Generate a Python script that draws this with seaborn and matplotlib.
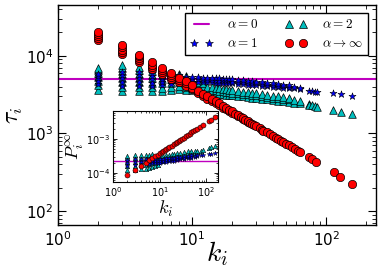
import matplotlib
matplotlib.use("Agg")
import matplotlib.pyplot as plt
import seaborn as sns
from matplotlib.lines import Line2D

# --- data ------------------------------------------------------------------
tau_a0 = 5000          # alpha = 0 (flat line)
p_a0 = 2.2e-4

k_a1 = [2, 2, 2, 2, 2, 3, 3, 3, 3, 3, 4, 4, 4, 4, 4, 5, 5, 5, 5, 5,
        6, 6, 6, 6, 6, 7, 7, 7, 7, 8, 8, 8, 8, 9, 9, 9,
        10, 10, 10, 11, 11, 11, 12, 12, 12, 13, 13, 13, 14, 14, 14,
        15, 15, 15, 16, 16, 16, 17, 17, 17, 18, 18, 18, 19, 19, 19,
        20, 20, 20, 22, 22, 22, 24, 24, 24, 26, 26, 26, 28, 28, 28,
        30, 30, 30, 33, 33, 33, 36, 36, 36, 40, 40, 40, 44, 44, 44,
        48, 48, 48, 53, 53, 53, 58, 58, 64, 64, 74, 78, 82, 85, 113, 128, 155]
tau_a1 = [4300, 4700, 5100, 5500, 5900, 4100, 4600, 5100, 5600, 6200,
          4100, 4600, 5100, 5600, 6100, 4100, 4500, 5000, 5500, 6000,
          4200, 4600, 5000, 5400, 5800, 4300, 4700, 5100, 5500,
          4400, 4800, 5200, 5600, 4500, 4900, 5300,
          4600, 4950, 5350, 4600, 4950, 5300, 4600, 4900, 5250,
          4550, 4900, 5200, 4550, 4850, 5150, 4500, 4800, 5150,
          4500, 4800, 5100, 4450, 4750, 5050, 4450, 4700, 5000,
          4400, 4700, 5000, 4400, 4650, 4950, 4350, 4600, 4900,
          4300, 4550, 4850, 4250, 4500, 4800, 4200, 4450, 4700,
          4150, 4400, 4650, 4100, 4350, 4550, 4050, 4250, 4500,
          4000, 4200, 4400, 3950, 4100, 4300, 3900, 4050, 4200,
          3850, 4000, 4150, 3800, 3950, 3750, 3900,
          3550, 3500, 3450, 3370, 3270, 3200, 3050]

k_a2 = [2, 2, 2, 2, 2, 2, 2, 3, 3, 3, 3, 3, 3, 3, 3, 4, 4, 4, 4, 4, 4, 4,
        5, 5, 5, 5, 5, 5, 5, 6, 6, 6, 6, 6, 6, 7, 7, 7, 7, 7, 7,
        8, 8, 8, 8, 8, 9, 9, 9, 9, 9, 10, 10, 10, 10, 11, 11, 11, 11,
        12, 12, 12, 12, 13, 13, 13, 14, 14, 14, 15, 15, 15, 16, 16, 16,
        17, 17, 17, 18, 18, 18, 19, 19, 19, 20, 20, 20, 22, 22, 22,
        24, 24, 24, 26, 26, 26, 28, 28, 28, 30, 30, 30, 33, 33, 33,
        36, 36, 36, 40, 40, 40, 44, 44, 44, 48, 48, 48, 53, 53, 53,
        58, 58, 64, 64, 74, 74, 78, 82, 85, 113, 128, 155]
tau_a2 = [3600, 4200, 4800, 5400, 6000, 6600, 7000,
          3500, 4000, 4600, 5200, 5800, 6400, 7000, 7600,
          3500, 4000, 4600, 5200, 5800, 6500, 7200,
          3500, 4000, 4500, 5100, 5700, 6400, 7000,
          3500, 3900, 4400, 5000, 5600, 6200,
          3600, 4000, 4500, 5000, 5600, 6000,
          3700, 4100, 4600, 5100, 5800, 3600, 4000, 4500, 5000, 5500,
          3600, 3900, 4300, 4700, 3500, 3800, 4200, 4600,
          3450, 3750, 4100, 4500, 3400, 3700, 4000, 3350, 3650, 3950,
          3300, 3600, 3900, 3250, 3550, 3800, 3200, 3500, 3750,
          3150, 3450, 3700, 3100, 3400, 3650, 3100, 3350, 3600,
          3050, 3300, 3500, 3000, 3250, 3450, 2950, 3200, 3400,
          2900, 3150, 3350, 2850, 3100, 3300, 2800, 3000, 3200,
          2750, 2950, 3150, 2700, 2900, 3050, 2650, 2850, 3000,
          2600, 2800, 2950, 2550, 2750, 2900, 2500, 2700, 2450, 2650,
          2400, 2300, 2350, 2250, 2200, 1990, 1900, 1760]

k_inf = [2, 2, 2, 2, 2, 3, 3, 3, 3, 3, 4, 4, 4, 4, 4, 5, 5, 5, 5,
         6, 6, 6, 6, 7, 7, 7, 7, 8, 8, 8, 9, 9, 9, 10, 10, 10,
         11, 11, 12, 12, 13, 13, 14, 14, 15, 15, 16, 16, 17, 17, 18, 18,
         19, 19, 20, 20, 21, 22, 22, 23, 24, 24, 25, 26, 26, 27, 28, 29,
         30, 32, 33, 34, 36, 38, 40, 42, 44, 46, 48, 50, 53, 56, 59, 62,
         64, 74, 78, 84, 114, 127, 156]
tau_inf = [16000, 17000, 18000, 19000, 20000, 10500, 11300, 12000, 12800, 13700,
           8300, 8800, 9300, 9800, 10200, 6700, 7200, 7700, 8200,
           5800, 6200, 6600, 7000, 5000, 5300, 5600, 6000,
           4600, 4850, 5200, 4100, 4400, 4700, 3700, 3900, 4200,
           3350, 3550, 3050, 3250, 2800, 3000, 2600, 2750, 2450, 2600,
           2300, 2450, 2150, 2280, 2050, 2150, 1950, 2030, 1850, 1950,
           1760, 1680, 1720, 1620, 1540, 1580, 1480, 1420, 1450, 1370,
           1320, 1270, 1230, 1160, 1120, 1090, 1030, 975, 925, 880,
           840, 805, 770, 740, 700, 660, 625, 600, 575, 500, 470, 430,
           315, 275, 225]

# inset: P_i^inf
kin_a1 = [2, 2, 2, 3, 3, 3, 4, 4, 4, 5, 5, 5, 6, 6, 6, 7, 7, 7, 8, 8, 8, 9, 9,
          10, 10, 10, 12, 12, 12, 14, 14, 14, 16, 16, 16, 18, 18, 18,
          20, 20, 20, 24, 24, 24, 28, 28, 28, 33, 33, 33, 40, 40, 40,
          48, 48, 48, 58, 58, 64, 64, 78, 85, 113, 128, 155]
p_a1 = [1.6e-4, 2.0e-4, 2.4e-4, 1.7e-4, 2.1e-4, 2.5e-4, 1.7e-4, 2.1e-4, 2.5e-4,
        1.8e-4, 2.2e-4, 2.5e-4, 1.8e-4, 2.2e-4, 2.5e-4, 1.9e-4, 2.2e-4, 2.5e-4,
        1.9e-4, 2.2e-4, 2.5e-4, 2.0e-4, 2.3e-4,
        2.0e-4, 2.3e-4, 2.6e-4, 2.1e-4, 2.3e-4, 2.6e-4, 2.1e-4, 2.4e-4, 2.7e-4,
        2.2e-4, 2.4e-4, 2.7e-4, 2.2e-4, 2.5e-4, 2.8e-4, 2.3e-4, 2.5e-4, 2.8e-4,
        2.4e-4, 2.6e-4, 2.9e-4, 2.5e-4, 2.7e-4, 3.0e-4, 2.6e-4, 2.8e-4, 3.1e-4,
        2.7e-4, 2.9e-4, 3.2e-4, 2.8e-4, 3.0e-4, 3.3e-4, 3.0e-4, 3.2e-4,
        3.1e-4, 3.3e-4, 3.3e-4, 3.4e-4, 3.6e-4, 3.7e-4, 3.9e-4]

kin_a2 = [2, 2, 2, 2, 2, 3, 3, 3, 3, 3, 4, 4, 4, 4, 4, 5, 5, 5, 5, 5,
          6, 6, 6, 6, 6, 7, 7, 7, 7, 7, 8, 8, 8, 8, 9, 9, 9, 9,
          10, 10, 10, 12, 12, 12, 14, 14, 14, 16, 16, 16, 18, 18, 18,
          20, 20, 20, 24, 24, 24, 28, 28, 28, 33, 33, 33, 40, 40, 40,
          48, 48, 48, 58, 58, 64, 64, 78, 85, 113, 128, 155]
p_a2 = [1.2e-4, 1.6e-4, 2.1e-4, 2.7e-4, 3.2e-4, 1.2e-4, 1.6e-4, 2.1e-4, 2.7e-4, 3.3e-4,
        1.3e-4, 1.7e-4, 2.2e-4, 2.8e-4, 3.4e-4, 1.3e-4, 1.7e-4, 2.2e-4, 2.8e-4, 3.4e-4,
        1.4e-4, 1.8e-4, 2.3e-4, 2.9e-4, 3.4e-4, 1.5e-4, 1.9e-4, 2.4e-4, 3.0e-4, 3.5e-4,
        1.6e-4, 2.0e-4, 2.5e-4, 3.0e-4, 1.7e-4, 2.1e-4, 2.6e-4, 3.1e-4,
        2.2e-4, 2.6e-4, 3.1e-4, 2.3e-4, 2.7e-4, 3.2e-4, 2.4e-4, 2.8e-4, 3.3e-4,
        2.5e-4, 2.9e-4, 3.4e-4, 2.6e-4, 3.0e-4, 3.5e-4, 2.7e-4, 3.1e-4, 3.6e-4,
        2.9e-4, 3.3e-4, 3.8e-4, 3.0e-4, 3.4e-4, 3.9e-4, 3.2e-4, 3.6e-4, 4.1e-4,
        3.4e-4, 3.8e-4, 4.3e-4, 3.6e-4, 4.0e-4, 4.5e-4, 3.8e-4, 4.3e-4,
        4.0e-4, 4.5e-4, 4.5e-4, 4.7e-4, 5.4e-4, 5.7e-4, 6.0e-4]

kin_inf = [2, 3, 4, 5, 6, 7, 8, 9, 10, 11, 12, 13, 14, 15, 16, 18, 20, 22, 24,
           26, 28, 30, 33, 36, 40, 44, 48, 53, 58, 64, 74, 84, 114, 127, 156]
p_inf = [8.7e-5, 1.26e-4, 1.63e-4, 2.0e-4, 2.35e-4, 2.7e-4, 3.05e-4, 3.4e-4,
         3.74e-4, 4.07e-4, 4.4e-4, 4.74e-4, 5.07e-4, 5.4e-4, 5.72e-4, 6.37e-4,
         7.0e-4, 7.64e-4, 8.27e-4, 8.9e-4, 9.5e-4, 1.01e-3, 1.1e-3, 1.19e-3,
         1.31e-3, 1.43e-3, 1.55e-3, 1.7e-3, 1.84e-3, 2.0e-3, 2.3e-3, 2.57e-3,
         3.4e-3, 3.7e-3, 4.5e-3]

# --- style -----------------------------------------------------------------
sns.set_style("ticks")
plt.rcParams["font.family"] = ["DejaVu Sans"]
plt.rcParams["mathtext.fontset"] = "cm"
plt.rcParams["xtick.direction"] = "in"
plt.rcParams["ytick.direction"] = "in"
plt.rcParams["xtick.top"] = True
plt.rcParams["ytick.right"] = True
for key in ["text.color", "axes.labelcolor", "xtick.color", "ytick.color",
            "axes.edgecolor"]:
    plt.rcParams[key] = "black"

fig = plt.figure(figsize=(3.82, 2.80), dpi=100)
ax = fig.add_axes([0.152, 0.196, 0.832, 0.786])

ax.axhline(tau_a0, color="m", lw=1.5, zorder=1)
sns.scatterplot(x=k_a2, y=tau_a2, marker="^", color="c", edgecolor="k",
                linewidth=0.5, s=30, ax=ax, zorder=2, legend=False)
sns.scatterplot(x=k_a1, y=tau_a1, marker="*", color="b", edgecolor="k",
                linewidth=0.4, s=28, ax=ax, zorder=3, legend=False)
sns.scatterplot(x=k_inf, y=tau_inf, marker="o", color="r", edgecolor="k",
                linewidth=0.5, s=36, ax=ax, zorder=4, legend=False)

ax.set_xscale("log")
ax.set_yscale("log")
ax.set_xlim(1, 235)
ax.set_ylim(66, 45000)
ax.set_xlabel(r"$k_i$", fontsize=20)
ax.set_ylabel(r"$\tau_i$", fontsize=17)
ax.xaxis.set_label_coords(0.5, -0.065)
ax.yaxis.set_label_coords(-0.105, 0.5)
ax.tick_params(which="major", labelsize=11, length=6, width=0.8)
ax.tick_params(which="minor", length=3, width=0.6)
for sp in ax.spines.values():
    sp.set_linewidth(1.0)

handles = [
    Line2D([], [], color="m", lw=1.5),
    Line2D([], [], ls="", marker="*", color="b", mec="k", mew=0.4, ms=6),
    Line2D([], [], ls="", marker="^", color="c", mec="k", mew=0.5, ms=5.5),
    Line2D([], [], ls="", marker="o", color="r", mec="k", mew=0.5, ms=6),
]
labels = [r"$\alpha=0$", r"$\alpha=1$", r"$\alpha=2$", r"$\alpha\to\infty$"]
leg = ax.legend(handles, labels, ncol=2, numpoints=2, loc="upper right",
                fontsize=9.5, fancybox=False, framealpha=1, edgecolor="k",
                handlelength=1.7, handletextpad=1.1, columnspacing=2.0,
                borderaxespad=0.6, labelspacing=0.45)
leg.get_frame().set_linewidth(1.0)

# --- inset -----------------------------------------------------------------
axi = fig.add_axes([0.296, 0.35, 0.275, 0.254])
axi.axhline(p_a0, color="m", lw=1.0, zorder=1)
sns.scatterplot(x=kin_a2, y=p_a2, marker="^", color="c", edgecolor="k",
                linewidth=0.4, s=10, ax=axi, zorder=2, legend=False)
sns.scatterplot(x=kin_a1, y=p_a1, marker="*", color="b", edgecolor="k",
                linewidth=0.3, s=12, ax=axi, zorder=3, legend=False)
sns.scatterplot(x=kin_inf, y=p_inf, marker="o", color="r", edgecolor="k",
                linewidth=0.4, s=13, ax=axi, zorder=4, legend=False)
axi.set_xscale("log")
axi.set_yscale("log")
axi.set_xlim(1, 180)
axi.set_ylim(5.4e-5, 6.7e-3)
axi.set_xlabel(r"$k_i$", fontsize=13, labelpad=0)
axi.set_ylabel(r"$P_i^{\infty}$", fontsize=13, labelpad=0)
axi.tick_params(which="major", labelsize=7, length=3, width=0.6, pad=2)
axi.tick_params(which="minor", length=1.5, width=0.5)

fig.savefig("out.png", dpi=100)
